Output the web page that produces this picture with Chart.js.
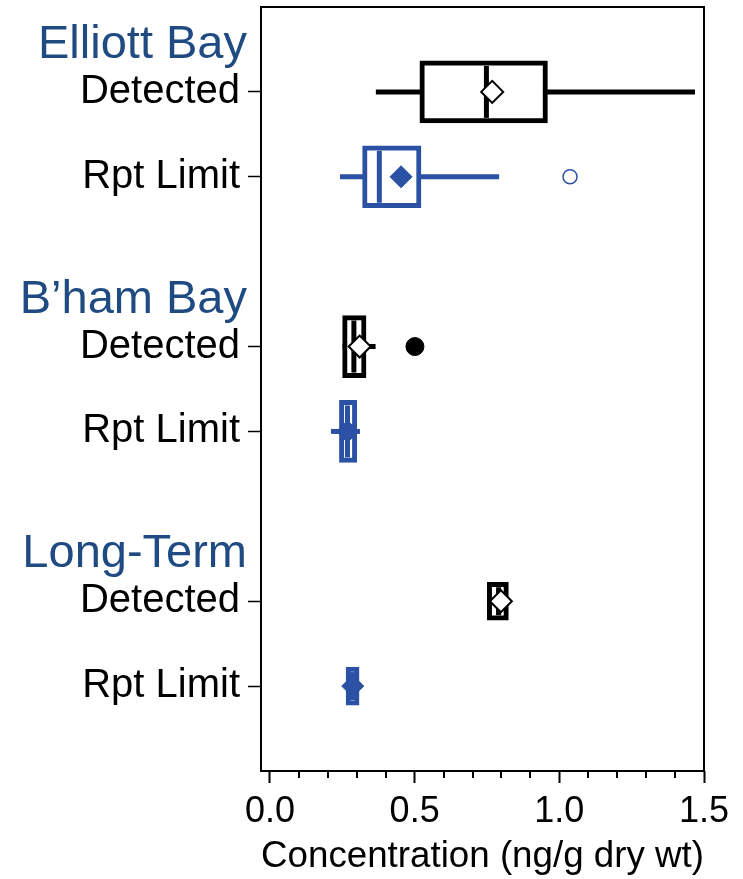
<!DOCTYPE html>
<html lang="en">
<head>
    <meta charset="UTF-8">
    <title>Concentration box plot</title>
    <script src="https://cdn.jsdelivr.net/npm/chart.js"></script>
    <style>
        body { margin: 0; background: #fff; }
        #wrap { width: 743px; height: 879px; position: relative; }
    </style>
</head>
<body>
    <div id="wrap"><canvas id="boxChart"></canvas></div>

    <script>
        // groups and rows
        const groups = ['Elliott Bay', 'B\u2019ham Bay', 'Long-Term'];
        const seriesNames = ['Detected', 'Rpt Limit'];

        // Detected (black)
        const detMin    = [0.366, 0.251, 0.751];
        const detQ1     = [0.518, 0.251, 0.751];
        const detMedian = [0.748, 0.290, 0.790];
        const detQ3     = [0.959, 0.332, 0.824];
        const detMax    = [1.469, 0.365, 0.824];
        const detMean   = [0.768, 0.310, 0.798];
        const detOutliers = [[], [0.501], []];

        // Rpt Limit (blue)
        const rptMin    = [0.242, 0.211, 0.263];
        const rptQ1     = [0.320, 0.240, 0.263];
        const rptMedian = [0.378, 0.268, 0.285];
        const rptQ3     = [0.522, 0.300, 0.308];
        const rptMax    = [0.792, 0.311, 0.308];
        const rptMean   = [0.453, 0.268, 0.286];
        const rptOutliers = [[1.037], [], []];

        const xTicks = [0, 0.5, 1.0, 1.5];

        const BLUE = '#2B51A5';
        const HEADER_BLUE = '#1F4B82';
        const FONT = '"Liberation Sans", Arial, sans-serif';
        const boxThickness = [62, 62, 38];

        const series = [
            { min: detMin, q1: detQ1, med: detMedian, q3: detQ3, max: detMax, mean: detMean, out: detOutliers, color: '#000' },
            { min: rptMin, q1: rptQ1, med: rptMedian, q3: rptQ3, max: rptMax, mean: rptMean, out: rptOutliers, color: BLUE }
        ];

        // row position on the y axis: header slot, then one slot per series
        const rowOf = (g, s) => g * 3 + s + 1;
        const rowValues = [];
        const rowLabels = {};
        groups.forEach((g, gi) => seriesNames.forEach((name, si) => {
            rowValues.push(rowOf(gi, si));
            rowLabels[rowOf(gi, si)] = name;
        }));

        const datasets = [];
        series.forEach((sr, si) => {
            groups.forEach((g, gi) => {
                // box
                datasets.push({
                    type: 'bar',
                    data: [{ x: [sr.q1[gi], sr.q3[gi]], y: rowOf(gi, si) }],
                    backgroundColor: '#fff',
                    borderColor: sr.color,
                    borderWidth: 5,
                    borderSkipped: false,
                    barThickness: boxThickness[gi],
                    grouped: false,
                    order: 2
                });
                // whisker
                datasets.push({
                    type: 'line',
                    data: [{ x: sr.min[gi], y: rowOf(gi, si) }, { x: sr.max[gi], y: rowOf(gi, si) }],
                    borderColor: sr.color,
                    borderWidth: 5,
                    pointRadius: 0,
                    fill: false,
                    order: 3
                });
            });
            // medians
            datasets.push({
                type: 'scatter',
                data: sr.med.map((v, gi) => ({ x: v, y: rowOf(gi, si) })),
                pointStyle: 'line',
                rotation: 90,
                pointRadius: ctx => boxThickness[ctx.dataIndex] / 2 - 5,
                borderColor: sr.color,
                borderWidth: 5,
                order: 1
            });
            // means
            datasets.push({
                type: 'scatter',
                data: sr.mean.map((v, gi) => ({ x: v, y: rowOf(gi, si) })),
                pointStyle: 'rectRot',
                pointRadius: 11,
                backgroundColor: si === 0 ? '#fff' : BLUE,
                borderColor: sr.color,
                borderWidth: si === 0 ? 2 : 1,
                order: 0
            });
            // outliers
            const outPts = [];
            sr.out.forEach((list, gi) => list.forEach(v => outPts.push({ x: v, y: rowOf(gi, si) })));
            datasets.push({
                type: 'scatter',
                data: outPts,
                pointStyle: 'circle',
                pointRadius: si === 0 ? 9 : 7,
                backgroundColor: si === 0 ? '#000' : '#fff',
                borderColor: sr.color,
                borderWidth: si === 0 ? 1 : 1.5,
                order: 0
            });
        });

        // frame, minor ticks and group headers
        const extras = {
            id: 'extras',
            afterDraw(chart) {
                const { ctx, chartArea: a, scales: { x, y } } = chart;
                ctx.save();
                ctx.strokeStyle = '#000';
                ctx.lineWidth = 2;
                ctx.strokeRect(a.left, a.top, a.right - a.left, a.bottom - a.top);
                ctx.beginPath();
                for (let i = 1; i < 15; i++) {
                    if (i % 5 === 0) continue;
                    const px = Math.round(x.getPixelForValue(i / 10));
                    ctx.moveTo(px, a.bottom);
                    ctx.lineTo(px, a.bottom + 7);
                }
                ctx.stroke();
                ctx.fillStyle = HEADER_BLUE;
                ctx.font = '47px ' + FONT;
                ctx.textAlign = 'right';
                ctx.textBaseline = 'middle';
                groups.forEach((g, gi) => {
                    ctx.fillText(g, a.left - 14, y.getPixelForValue(gi * 3 + 0.45));
                });
                ctx.restore();
            }
        };

        new Chart(document.getElementById('boxChart'), {
            type: 'bar',
            data: { datasets },
            plugins: [extras],
            options: {
                indexAxis: 'y',
                responsive: true,
                maintainAspectRatio: false,
                animation: false,
                events: [],
                layout: { autoPadding: false, padding: { top: 7, right: 39, left: 0, bottom: 0 } },
                plugins: { legend: { display: false }, tooltip: { enabled: false } },
                scales: {
                    x: {
                        type: 'linear',
                        min: -0.031,
                        max: 1.5,
                        afterBuildTicks: axis => { axis.ticks = xTicks.map(v => ({ value: v })); },
                        afterFit: scale => { scale.height = 108; scale.paddingLeft = 0; scale.paddingRight = 0; },
                        border: { display: false },
                        grid: { drawOnChartArea: false, tickLength: 12, tickColor: '#000', tickWidth: 2 },
                        ticks: {
                            color: '#000',
                            padding: 7,
                            font: { family: FONT, size: 36 },
                            callback: v => Number(v).toFixed(1)
                        },
                        title: {
                            display: true,
                            text: 'Concentration (ng/g dry wt)',
                            color: '#000',
                            padding: 0,
                            font: { family: FONT, size: 37.5 }
                        }
                    },
                    y: {
                        type: 'linear',
                        min: 0,
                        max: 9,
                        reverse: true,
                        offset: false,
                        afterBuildTicks: axis => { axis.ticks = rowValues.map(v => ({ value: v })); },
                        afterFit: scale => { scale.width = 261; scale.paddingTop = 0; scale.paddingBottom = 0; },
                        border: { display: false },
                        grid: { offset: false, drawOnChartArea: false, tickLength: 13, tickColor: '#000', tickWidth: 1.5 },
                        ticks: {
                            color: '#000',
                            padding: 8,
                            font: { family: FONT, size: 40 },
                            callback: v => rowLabels[v] || ''
                        }
                    }
                }
            }
        });
    </script>
</body>
</html>
